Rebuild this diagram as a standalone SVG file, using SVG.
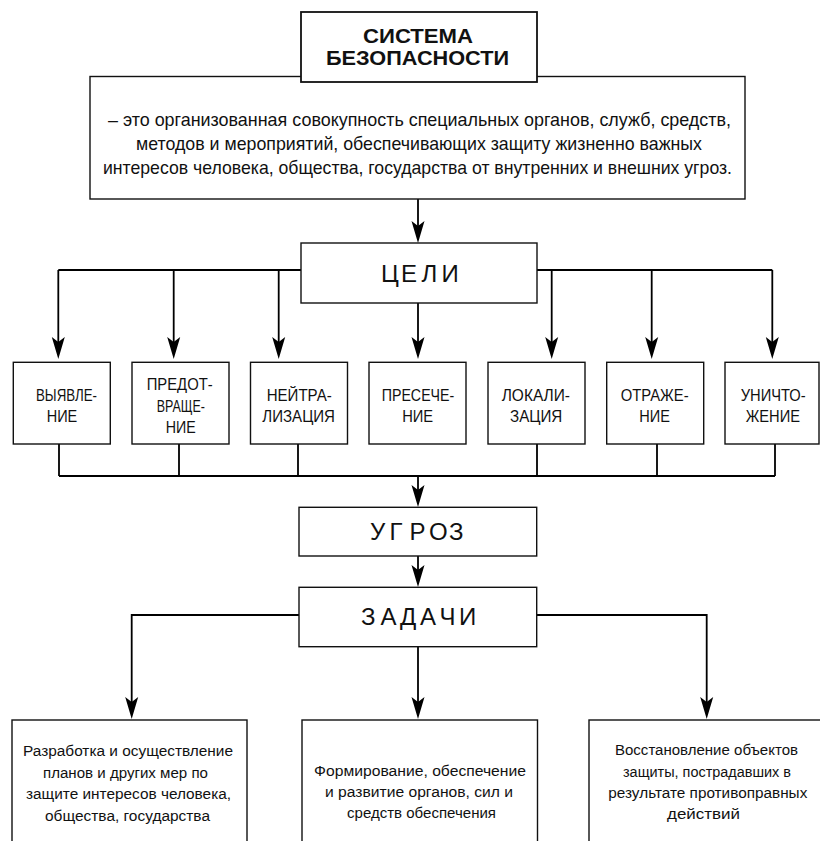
<svg xmlns="http://www.w3.org/2000/svg" width="820" height="841" viewBox="0 0 820 841">
<style>
  .box { fill: #fff; stroke: #111; stroke-width: 1.4; }
  .tbox { fill: #fff; stroke: #111; stroke-width: 1.8; }
  .con { fill: none; stroke: #000; stroke-width: 1.8; }
  .arr { marker-end: url(#ah); }
  text { font-family: "Liberation Sans", Arial, sans-serif; fill: #111; }
  .title { font-size: 20px; font-weight: bold; }
  .desc { font-size: 18.5px; }
  .big { font-size: 24px; }
  .sm { font-size: 17px; }
  .task { font-size: 15.5px; }
</style>
<defs>
  <marker id="ah" markerUnits="userSpaceOnUse" viewBox="-23 -7 24 14" markerWidth="24" markerHeight="14" refX="-17" refY="0" orient="auto" overflow="visible">
    <path d="M0,0 L-22,-6.5 L-17,0 L-22,6.5 Z" fill="#000"/>
  </marker>
</defs>

<g id="connectors">
  <path class="con arr" d="M418,199 V226"/>
  <path class="con" d="M58.3,270 H301 M537,270 H772.3"/>
  <path class="con arr" d="M58.3,270 V342"/>
  <path class="con arr" d="M173.7,270 V342"/>
  <path class="con arr" d="M278.7,270 V342"/>
  <path class="con arr" d="M418,303 V342"/>
  <path class="con arr" d="M551.7,270 V342"/>
  <path class="con arr" d="M651.7,270 V342"/>
  <path class="con arr" d="M772.3,270 V342"/>
  <path class="con" d="M59,444 V476 M179,444 V476 M298,444 V476 M537,444 V476 M657,444 V476 M775,444 V476 M59,476 H775"/>
  <path class="con arr" d="M418,476 V490"/>
  <path class="con arr" d="M418,556 V570"/>
  <path class="con arr" d="M299,615 H131.7 V702"/>
  <path class="con arr" d="M418,647 V702"/>
  <path class="con arr" d="M537,615 H706.7 V702"/>
</g>

<g id="description">
  <rect class="box" x="90" y="76.5" width="655" height="122.5"/>
  <text class="desc" x="108" y="126" textLength="623" lengthAdjust="spacingAndGlyphs">– это организованная совокупность специальных органов, служб, средств,</text>
  <text class="desc" x="136" y="150" textLength="566" lengthAdjust="spacingAndGlyphs">методов и мероприятий, обеспечивающих защиту жизненно важных</text>
  <text class="desc" x="103" y="174" textLength="629" lengthAdjust="spacingAndGlyphs">интересов человека, общества, государства от внутренних и внешних угроз.</text>
</g>

<g id="title">
  <rect class="tbox" x="301" y="12" width="236" height="70"/>
  <text class="title" x="363" y="42.5" textLength="110" lengthAdjust="spacingAndGlyphs">СИСТЕМА</text>
  <text class="title" x="326" y="64.5" textLength="183" lengthAdjust="spacingAndGlyphs">БЕЗОПАСНОСТИ</text>
</g>

<g id="celi">
  <rect class="box" x="301" y="243" width="236" height="60"/>
  <text class="big" x="381 401 421.5 441.5" y="281.5">ЦЕЛИ</text>
</g>

<g id="vyyavlenie">
  <rect class="box" x="13.3" y="362.3" width="97" height="81.7"/>
  <text class="sm" x="36" y="400.5" textLength="61" lengthAdjust="spacingAndGlyphs">ВЫЯВЛЕ-</text>
  <text class="sm" x="46.7" y="421.5" textLength="30.6" lengthAdjust="spacingAndGlyphs">НИЕ</text>
</g>
<g id="predotvrashchenie">
  <rect class="box" x="132" y="362.3" width="97" height="81.7"/>
  <text class="sm" x="146.7" y="390" textLength="66" lengthAdjust="spacingAndGlyphs">ПРЕДОТ-</text>
  <text class="sm" x="156.7" y="411.5" textLength="48.3" lengthAdjust="spacingAndGlyphs">ВРАЩЕ-</text>
  <text class="sm" x="165.7" y="433" textLength="30" lengthAdjust="spacingAndGlyphs">НИЕ</text>
</g>
<g id="neytralizatsiya">
  <rect class="box" x="250.5" y="362.3" width="97" height="81.7"/>
  <text class="sm" x="266.7" y="400.5" textLength="65" lengthAdjust="spacingAndGlyphs">НЕЙТРА-</text>
  <text class="sm" x="262.3" y="421.5" textLength="72.7" lengthAdjust="spacingAndGlyphs">ЛИЗАЦИЯ</text>
</g>
<g id="presechenie">
  <rect class="box" x="369" y="362.3" width="97" height="81.7"/>
  <text class="sm" x="381.7" y="400.5" textLength="72.6" lengthAdjust="spacingAndGlyphs">ПРЕСЕЧЕ-</text>
  <text class="sm" x="402.2" y="421.5" textLength="31" lengthAdjust="spacingAndGlyphs">НИЕ</text>
</g>
<g id="lokalizatsiya">
  <rect class="box" x="488" y="362.3" width="97" height="81.7"/>
  <text class="sm" x="501.7" y="400.5" textLength="68.3" lengthAdjust="spacingAndGlyphs">ЛОКАЛИ-</text>
  <text class="sm" x="510" y="421.5" textLength="52.3" lengthAdjust="spacingAndGlyphs">ЗАЦИЯ</text>
</g>
<g id="otrazhenie">
  <rect class="box" x="606.7" y="362.3" width="97" height="81.7"/>
  <text class="sm" x="620.7" y="400.5" textLength="68" lengthAdjust="spacingAndGlyphs">ОТРАЖЕ-</text>
  <text class="sm" x="639.3" y="421.5" textLength="30.7" lengthAdjust="spacingAndGlyphs">НИЕ</text>
</g>
<g id="unichtozhenie">
  <rect class="box" x="725" y="362.3" width="94" height="81.7"/>
  <text class="sm" x="740.7" y="400.5" textLength="65" lengthAdjust="spacingAndGlyphs">УНИЧТО-</text>
  <text class="sm" x="745.7" y="421.5" textLength="54.3" lengthAdjust="spacingAndGlyphs">ЖЕНИЕ</text>
</g>

<g id="ugroz">
  <rect class="box" x="299" y="507.3" width="237.7" height="48.7"/>
  <text class="big" x="370 389.5 409.5 429 449" y="540">УГРОЗ</text>
</g>

<g id="zadachi">
  <rect class="box" x="299" y="587.3" width="237.7" height="59.4"/>
  <text class="big" x="361 380.5 400 420 439.5 459" y="625">ЗАДАЧИ</text>
</g>

<g id="task1">
  <rect class="box" x="12" y="720" width="235" height="140"/>
  <text class="task" x="23" y="756" textLength="210" lengthAdjust="spacingAndGlyphs">Разработка и осуществление</text>
  <text class="task" x="43" y="777.5" textLength="165" lengthAdjust="spacingAndGlyphs">планов и других мер по</text>
  <text class="task" x="26" y="799" textLength="205" lengthAdjust="spacingAndGlyphs">защите интересов человека,</text>
  <text class="task" x="45" y="820.5" textLength="165" lengthAdjust="spacingAndGlyphs">общества, государства</text>
</g>
<g id="task2">
  <rect class="box" x="302" y="720" width="235.5" height="140"/>
  <text class="task" x="314" y="776" textLength="212" lengthAdjust="spacingAndGlyphs">Формирование, обеспечение</text>
  <text class="task" x="325" y="797" textLength="188" lengthAdjust="spacingAndGlyphs">и развитие органов, сил и</text>
  <text class="task" x="347" y="818" textLength="149" lengthAdjust="spacingAndGlyphs">средств обеспечения</text>
</g>
<g id="task3">
  <rect class="box" x="589" y="720" width="260" height="140"/>
  <text class="task" x="615" y="755" textLength="183" lengthAdjust="spacingAndGlyphs">Восстановление объектов</text>
  <text class="task" x="623" y="776.5" textLength="168" lengthAdjust="spacingAndGlyphs">защиты, пострадавших в</text>
  <text class="task" x="608.3" y="798" textLength="199" lengthAdjust="spacingAndGlyphs">результате противоправных</text>
  <text class="task" x="667" y="819" textLength="73" lengthAdjust="spacingAndGlyphs">действий</text>
</g>
</svg>
